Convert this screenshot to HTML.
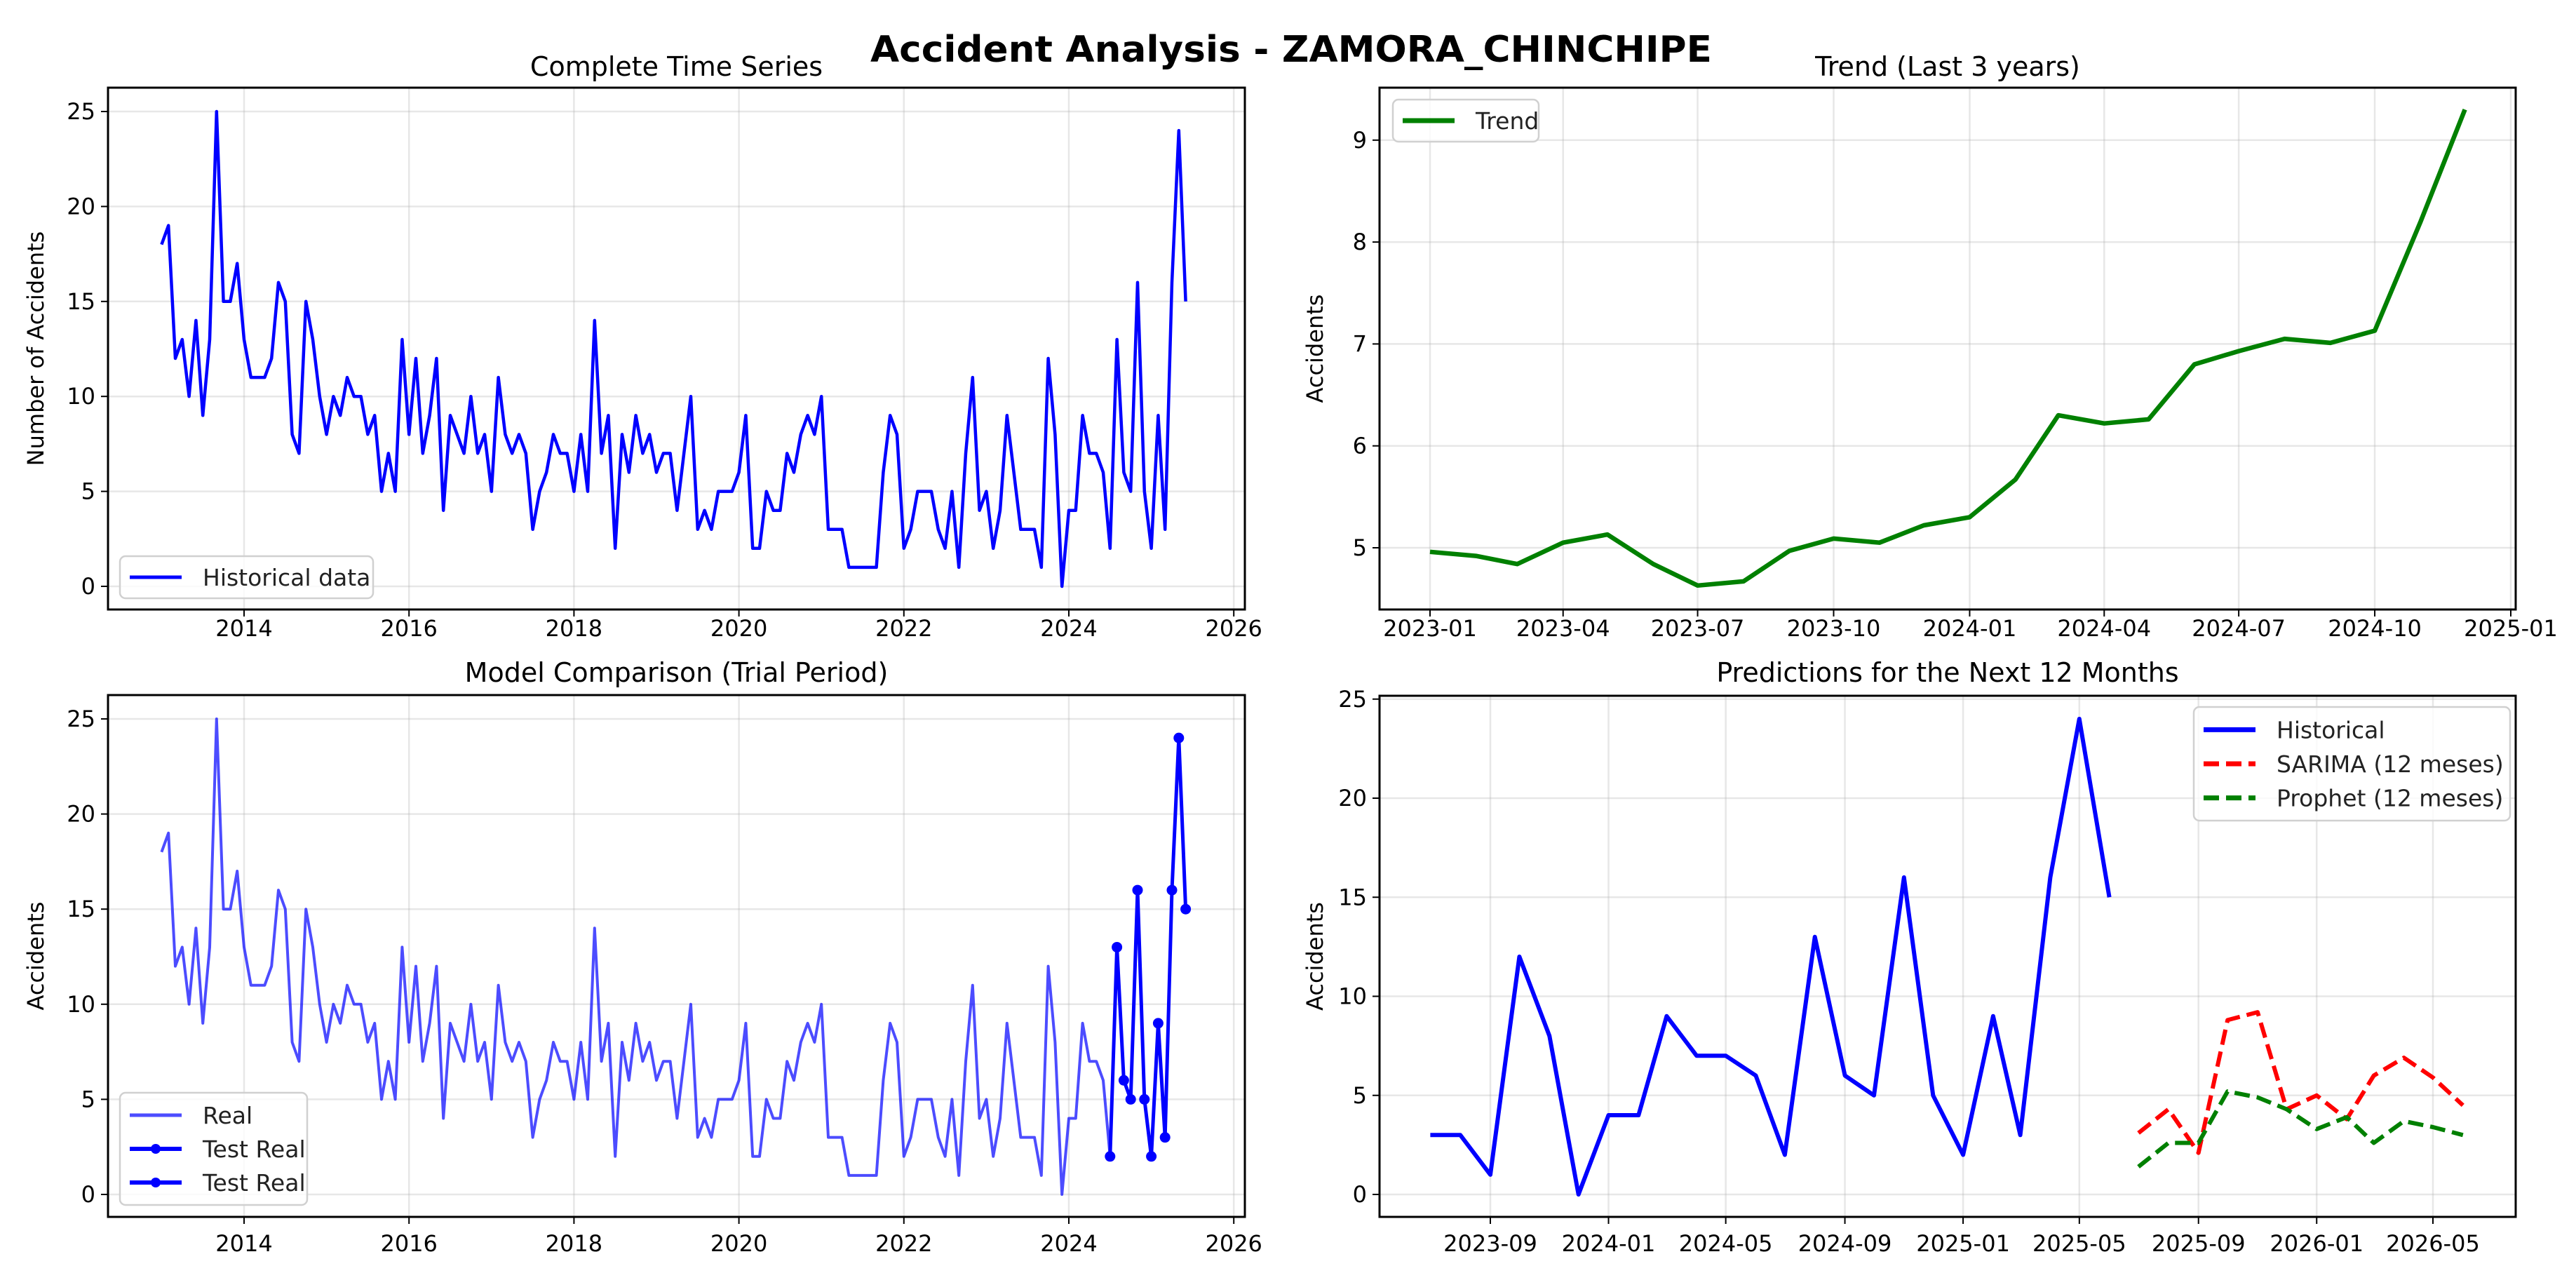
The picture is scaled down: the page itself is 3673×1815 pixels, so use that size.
<!DOCTYPE html>
<html><head><meta charset="utf-8">
<style>
html,body{margin:0;padding:0;background:#fff;}
svg{display:block;font-family:"DejaVu Sans","Liberation Sans",sans-serif;}
</style></head>
<body>
<svg id="fig" xmlns="http://www.w3.org/2000/svg" width="3673" height="1815" viewBox="0 0 3673 1815">
<rect width="3673" height="1815" fill="#fff"/>
<text x="1841" y="88" text-anchor="middle" font-size="52" font-weight="bold" textLength="1200" lengthAdjust="spacingAndGlyphs">Accident Analysis - ZAMORA_CHINCHIPE</text>
</svg>
<script>
// ---- data ----
const histValues = [18,19,12,13,10,14,9,13,25,15,15,17,
13,11,11,11,12,16,15,8,7,15,13,10,
8,10,9,11,10,10,8,9,5,7,5,13,
8,12,7,9,12,4,9,8,7,10,7,8,
5,11,8,7,8,7,3,5,6,8,7,7,
5,8,5,14,7,9,2,8,6,9,7,8,
6,7,7,4,7,10,3,4,3,5,5,5,
6,9,2,2,5,4,4,7,6,8,9,8,
10,3,3,3,1,1,1,1,1,6,9,8,
2,3,5,5,5,3,2,5,1,7,11,4,
5,2,4,9,6,3,3,3,1,12,8,0,
4,4,9,7,7,6,2,13,6,5,16,5,
2,9,3,16,24,15];
const histStart = [2013,1];
const trendValues = [4.96,4.92,4.84,5.05,5.13,4.84,4.63,4.67,4.97,5.09,5.05,5.22,
5.30,5.67,6.30,6.22,6.26,6.80,6.93,7.05,7.01,7.13,8.20,9.30];
const trendStart = [2023,1];
const testCount = 12;
const recentCount = 24;
const sarimaValues = [3.1,4.3,2.1,8.8,9.2,4.3,5.0,3.8,6.0,6.9,5.9,4.5];
const prophetValues = [1.4,2.6,2.6,5.2,4.9,4.3,3.3,3.9,2.6,3.7,3.4,3.0];
const forecastStart = [2025,7];
const yearTicks = [2014,2016,2018,2020,2022,2024,2026];
const countTicks = [0,5,10,15,20,25];
const trendTicks = [5,6,7,8,9];
const trendXTicks = ['2023-01','2023-04','2023-07','2023-10','2024-01','2024-04','2024-07','2024-10','2025-01'];
const predXTicks = ['2023-09','2024-01','2024-05','2024-09','2025-01','2025-05','2025-09','2026-01','2026-05'];

const NS='http://www.w3.org/2000/svg';
const svg=document.getElementById('fig');
function el(tag,attrs,parent,txt){const e=document.createElementNS(NS,tag);for(const k in attrs)e.setAttribute(k,attrs[k]);if(txt!==undefined)e.textContent=txt;(parent||svg).appendChild(e);return e;}
function dayNum(y,m,d){return Date.UTC(y,m-1,d||1)/86400000;}
function monthDate(start,i){let m=start[1]-1+i;return [start[0]+Math.floor(m/12),(m%12)+1];}
function parseYM(s){const p=s.split('-');return dayNum(+p[0],+p[1],1);}

function makeAxes(name,L,R,T,B){
  const g=el('g',{},svg);
  
  
  return g;
}
function frame(g,L,R,T,B){
  const r=el('rect',{x:L,y:T,width:R-L,height:B-T,fill:'none',stroke:'#000','stroke-width':3},g);
  
  
}
function yGrid(g,ticks,ys,L,R,fmt){
  ticks.forEach(t=>{const y=ys(t);
    const gl=el('line',{x1:L,x2:R,y1:y,y2:y,stroke:'#b0b0b0','stroke-opacity':0.3,'stroke-width':2.5},g);
    
    
    el('line',{x1:L-10,x2:L,y1:y,y2:y,stroke:'#000','stroke-width':2},g);
    const tx=el('text',{x:L-18,y:y+11,'text-anchor':'end','font-size':32},g,fmt?fmt(t):String(t));
    
    
  });
}
function xGrid(g,ticks,xs,T,B,labels,ly){
  ticks.forEach((t,i)=>{const x=xs(t);
    const gl=el('line',{x1:x,x2:x,y1:T,y2:B,stroke:'#b0b0b0','stroke-opacity':0.3,'stroke-width':2.5},g);
    
    
    el('line',{x1:x,x2:x,y1:B,y2:B+10,stroke:'#000','stroke-width':2},g);
    const tx=el('text',{x:x,y:ly,'text-anchor':'middle','font-size':32},g,labels[i]);
    
    
  });
}
function polyline(g,pts,attrs,name){
  const p=el('polyline',Object.assign({points:pts.map(p=>p[0].toFixed(1)+','+p[1].toFixed(1)).join(' '),fill:'none','stroke-linejoin':'round'},attrs),g);
  
  
  return p;
}
function title(g,x,y,txt){const t=el('text',{x:x,y:y,'text-anchor':'middle','font-size':38},g,txt);
  
  }
function ylabel(g,x,y,txt){const t=el('text',{x:x,y:y,'text-anchor':'middle','font-size':32,transform:'rotate(-90 '+x+' '+y+')'},g,txt);
  
  }
function legend(g,x1,y1,x2,y2,items){
  const lg=el('g',{},g);
  
  
  el('rect',{x:x1,y:y1,width:x2-x1,height:y2-y1,rx:8,fill:'#fff','fill-opacity':0.8,stroke:'#d0d0d0','stroke-width':2.5},lg);
  const h=(y2-y1-16)/items.length;
  items.forEach((it,i)=>{const cy=y1+8+h*(i+0.5);
    const e=el('g',{},lg);
    
    
    el('line',{x1:x1+14,x2:x1+88,y1:cy,y2:cy,stroke:it.c,'stroke-width':it.w,'stroke-dasharray':it.dash||'','stroke-opacity':it.op||1},e);
    if(it.marker) el('circle',{cx:x1+51,cy:cy,r:7,fill:it.c},e);
    el('text',{x:x1+118,y:cy+12,'font-size':33,fill:'#222'},e,it.t);
  });
}

// ---------- Panel 1: Complete Time Series ----------
(function(){
  const L=154,R=1775,T=125,B=869;
  const g=makeAxes('complete-time-series-chart',L,R,T,B);
  const xs=yr=>348+(yr-2014)*117.6;
  const ys=v=>836-v*27.08;
  yGrid(g,countTicks,ys,L,R);
  xGrid(g,yearTicks,xs,T,B,yearTicks.map(String),907);
  const pts=histValues.map((v,i)=>{const d=monthDate(histStart,i);return [xs(d[0]+(d[1]-1)/12),ys(v)];});
  polyline(g,pts,{stroke:'#0000ff','stroke-width':4.5},'historical-line');
  frame(g,L,R,T,B);
  title(g,(L+R)/2,108,'Complete Time Series');
  ylabel(g,62,(T+B)/2,'Number of Accidents');
  legend(g,171,793,532,853,[{c:'#0000ff',w:5,t:'Historical data'}]);
})();

// ---------- Panel 2: Trend ----------
(function(){
  const L=1967,R=3587,T=125,B=869;
  const g=makeAxes('trend-chart',L,R,T,B);
  const d0=dayNum(2023,1,1),d1=dayNum(2025,1,1);
  const xs=d=>2039+(d-d0)*(3580-2039)/(d1-d0);
  const ys=v=>781-(v-5)*145.3;
  yGrid(g,trendTicks,ys,L,R);
  xGrid(g,trendXTicks.map(parseYM),xs,T,B,trendXTicks,907);
  const pts=trendValues.map((v,i)=>{const d=monthDate(trendStart,i);return [xs(dayNum(d[0],d[1],1)),ys(v)];});
  polyline(g,pts,{stroke:'#008000','stroke-width':6.5},'trend-line');
  frame(g,L,R,T,B);
  title(g,(L+R)/2,108,'Trend (Last 3 years)');
  ylabel(g,1886,(T+B)/2,'Accidents');
  legend(g,1986,142,2194,202,[{c:'#008000',w:7,t:'Trend'}]);
})();

// ---------- Panel 3: Model Comparison ----------
(function(){
  const L=154,R=1775,T=991,B=1735;
  const g=makeAxes('model-comparison-chart',L,R,T,B);
  const xs=yr=>348+(yr-2014)*117.6;
  const ys=v=>1703-v*27.12;
  yGrid(g,countTicks,ys,L,R);
  xGrid(g,yearTicks,xs,T,B,yearTicks.map(String),1784);
  const pts=histValues.map((v,i)=>{const d=monthDate(histStart,i);return [xs(d[0]+(d[1]-1)/12),ys(v)];});
  polyline(g,pts,{stroke:'#0000ff','stroke-width':4,'stroke-opacity':0.7},'real-line');
  const tp=pts.slice(pts.length-testCount);
  polyline(g,tp,{stroke:'#0000ff','stroke-width':5},'test-real-line');
  tp.forEach(p=>{const c=el('circle',{cx:p[0],cy:p[1],r:7.5,fill:'#0000ff'},g);
    
    });
  frame(g,L,R,T,B);
  title(g,(L+R)/2,972,'Model Comparison (Trial Period)');
  ylabel(g,62,(T+B)/2,'Accidents');
  legend(g,171,1558,438,1718,[{c:'#0000ff',w:5,op:0.7,t:'Real'},{c:'#0000ff',w:6,t:'Test Real',marker:true},{c:'#0000ff',w:6,t:'Test Real',marker:true}]);
})();

// ---------- Panel 4: Predictions ----------
(function(){
  const L=1967,R=3587,T=992,B=1735;
  const g=makeAxes('predictions-chart',L,R,T,B);
  const d0=dayNum(2023,9,1),d1=dayNum(2026,5,1);
  const xs=d=>2125+(d-d0)*(3469-2125)/(d1-d0);
  const ys=v=>1703-v*28.25;
  yGrid(g,countTicks,ys,L,R);
  xGrid(g,predXTicks.map(parseYM),xs,T,B,predXTicks,1784);
  const recent=histValues.slice(histValues.length-recentCount);
  const rs=monthDate(histStart,histValues.length-recentCount);
  const hp=recent.map((v,i)=>{const d=monthDate(rs,i);return [xs(dayNum(d[0],d[1],1)),ys(v)];});
  polyline(g,hp,{stroke:'#0000ff','stroke-width':6},'historical-line');
  const sp=sarimaValues.map((v,i)=>{const d=monthDate(forecastStart,i);return [xs(dayNum(d[0],d[1],1)),ys(v)];});
  polyline(g,sp,{stroke:'#ff0000','stroke-width':6,'stroke-dasharray':'22,10'},'sarima-forecast-line');
  const pp=prophetValues.map((v,i)=>{const d=monthDate(forecastStart,i);return [xs(dayNum(d[0],d[1],1)),ys(v)];});
  polyline(g,pp,{stroke:'#008000','stroke-width':6,'stroke-dasharray':'22,10'},'prophet-forecast-line');
  frame(g,L,R,T,B);
  title(g,(L+R)/2,972,'Predictions for the Next 12 Months');
  ylabel(g,1886,(T+B)/2,'Accidents');
  legend(g,3128,1008,3579,1170,[{c:'#0000ff',w:7,t:'Historical'},{c:'#ff0000',w:7,dash:'22,10',t:'SARIMA (12 meses)'},{c:'#008000',w:7,dash:'22,10',t:'Prophet (12 meses)'}]);
})();
</script>
</body></html>
